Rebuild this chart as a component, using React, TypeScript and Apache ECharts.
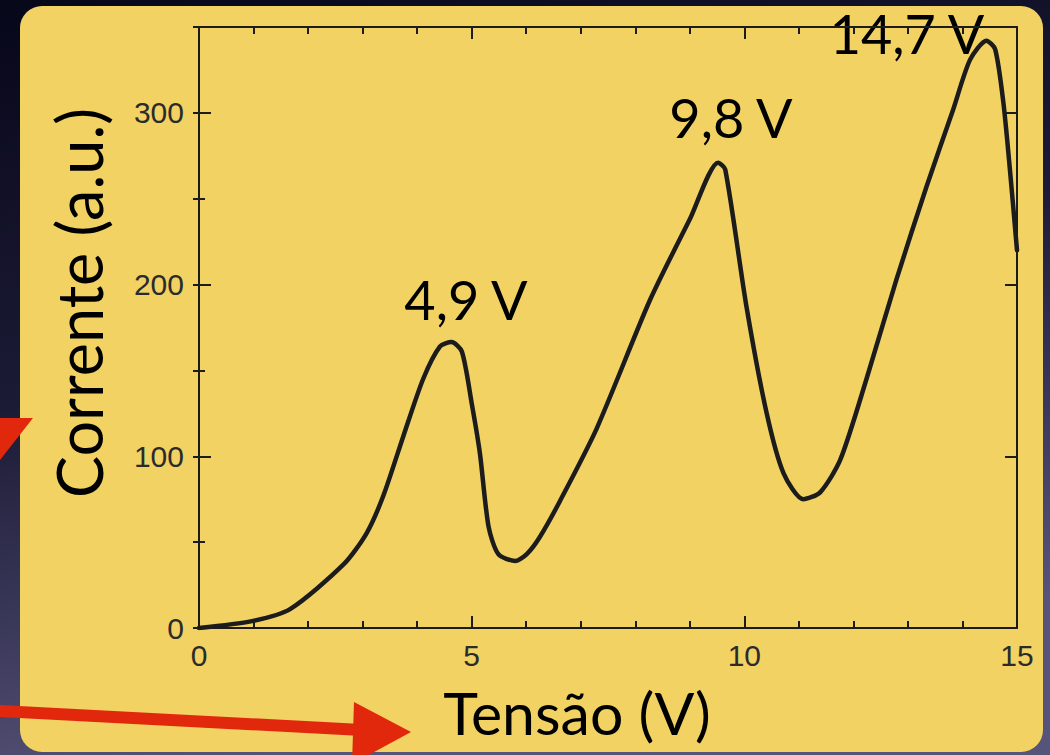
import React, { useEffect, useRef } from "react";
import * as echarts from "echarts";

const voltage = [0, 0.97, 1.67, 2.65, 3.07, 3.38, 3.75, 4.11, 4.42, 4.63, 4.82, 5.0, 5.15, 5.31, 5.49, 5.8, 6.01, 6.25, 6.62, 7.29, 8.27, 9.0, 9.52, 9.65, 10.04, 10.41, 10.72, 11.08, 11.39, 11.76, 12.24, 12.79, 13.34, 13.83, 14.14, 14.44, 14.6, 14.75, 14.87, 15.0];
const current = [0, 4, 11, 37, 55, 77, 112, 145, 164, 166.5, 161, 131, 102, 59, 43, 39, 43, 53, 74, 116, 191, 238, 271, 267, 187, 125, 90, 75, 79, 98, 145, 203, 257, 302, 331, 342, 337, 306, 267, 220];

const peakLabels = ["4,9 V", "9,8 V", "14,7 V"];
const xTitle = "Tensão (V)";
const yTitle = "Corrente (a.u.)";

const xMin = 0, xMax = 15, xStep = 5;
const yMin = 0, yMax = 350, yStep = 100, yMinorStep = 50;

export default function App() {
  const ref = useRef<HTMLDivElement>(null);
  useEffect(() => {
    document.body.style.margin = "0";
    const chart = echarts.init(ref.current!, null, { renderer: "svg" });
    const ink = "#1c1c1c";
    const labelFont = { fontFamily: "Liberation Sans", fontSize: 30, color: "#2b2b2b" };
    const baseX = {
      type: "value", min: xMin, max: xMax, interval: xStep,
      axisLine: { show: true, onZero: false, lineStyle: { color: ink, width: 2 } },
      axisTick: { show: true, inside: true, length: 12, lineStyle: { color: ink, width: 2 } },
      minorTick: { show: true, splitNumber: 5, length: 7, lineStyle: { color: ink, width: 2 } },
      splitLine: { show: false },
    };
    const baseY = {
      type: "value", min: yMin, max: yMax,
      splitLine: { show: false },
    };
    const data = voltage.map((v, i) => [v, current[i]]);
    const titleFont = "Lato, 'Open Sans', sans-serif";
    const peakStyle = { fontFamily: titleFont, fontSize: 54, fill: "#000", align: "center", verticalAlign: "middle" };
    chart.setOption({
      animation: false,
      backgroundColor: "transparent",
      graphic: [
        {
          type: "rect", z: -10, silent: true,
          shape: { x: 0, y: 0, width: 1050, height: 755 },
          style: {
            fill: new echarts.graphic.LinearGradient(0, 0, 0.3, 1, [
              { offset: 0, color: "#07071a" },
              { offset: 0.5, color: "#1c1b36" },
              { offset: 1, color: "#57547a" },
            ]),
          },
        },
        {
          type: "rect", z: -9, silent: true,
          shape: { x: 20, y: 6, width: 1023, height: 746, r: 22 },
          style: { fill: "#f1d263" },
        },
        {
          type: "text", x: 78, y: 303, rotation: Math.PI / 2,
          style: { text: yTitle, fontFamily: titleFont, fontSize: 63, fill: "#000", align: "center", verticalAlign: "middle" },
        },
        {
          type: "text", x: 577, y: 712,
          style: { text: xTitle, fontFamily: titleFont, fontSize: 59, fill: "#000", align: "center", verticalAlign: "middle" },
        },
        { type: "text", x: 466, y: 299, style: { text: peakLabels[0], ...peakStyle } },
        { type: "text", x: 731, y: 117, style: { text: peakLabels[1], ...peakStyle } },
        { type: "text", x: 907, y: 33, style: { text: peakLabels[2], ...peakStyle } },
        {
          type: "polygon", z: 50, silent: true,
          shape: { points: [[0, 418], [33, 418], [0, 460]] },
          style: { fill: "#e1280d" },
        },
        {
          type: "polygon", z: 50, silent: true,
          shape: { points: [[0, 705], [362, 724], [362, 736], [0, 717]] },
          style: { fill: "#e1280d" },
        },
        {
          type: "polygon", z: 50, silent: true,
          shape: { points: [[354, 702], [411, 732], [352, 764]] },
          style: { fill: "#e1280d" },
        },
      ],
      grid: { left: 199, top: 27, width: 818, height: 601, containLabel: false },
      xAxis: [
        { ...baseX, position: "bottom", axisLabel: { ...labelFont, margin: 12 } },
        { ...baseX, position: "top", axisLabel: { show: false } },
      ],
      yAxis: [
        {
          ...baseY, position: "left", interval: yStep,
          axisLine: { show: true, onZero: false, lineStyle: { color: ink, width: 2 } },
          axisTick: { show: true, inside: true, length: 12, lineStyle: { color: ink, width: 2 } },
          axisLabel: { ...labelFont, margin: 15, formatter: (v: number) => (v % yStep === 0 ? String(v) : "") },
        },
        {
          ...baseY, position: "right", interval: yStep,
          axisLine: { show: true, onZero: false, lineStyle: { color: ink, width: 2 } },
          axisTick: { show: true, inside: true, length: 12, lineStyle: { color: ink, width: 2 } },
          axisLabel: { show: false },
        },
        {
          ...baseY, position: "left", interval: yMinorStep,
          axisLine: { show: false },
          axisTick: { show: true, inside: true, length: 6, lineStyle: { color: ink, width: 2 } },
          axisLabel: { show: false },
        },
        {
          ...baseY, position: "right", interval: yMinorStep,
          axisLine: { show: false },
          axisTick: { show: true, inside: true, length: 6, lineStyle: { color: ink, width: 2 } },
          axisLabel: { show: false },
        },
      ],
      series: [
        {
          type: "line", xAxisIndex: 0, yAxisIndex: 0, data,
          smooth: 0.25, showSymbol: false, symbol: "none",
          lineStyle: { color: ink, width: 4.5, cap: "round", join: "round" },
          z: 5,
        },
      ],
    });
    return () => chart.dispose();
  }, []);
  return <div ref={ref} style={{ width: 1050, height: 755 }} />;
}
